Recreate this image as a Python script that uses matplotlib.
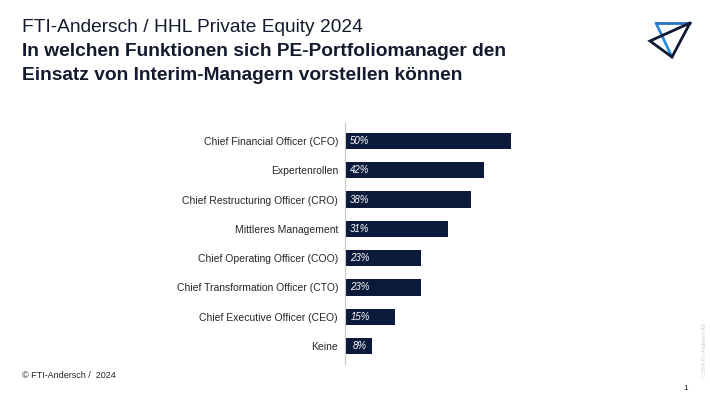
import matplotlib
matplotlib.use("Agg")
import matplotlib.pyplot as plt
from matplotlib.lines import Line2D

plt.rcParams['font.family'] = ['Liberation Sans', 'DejaVu Sans']

# Daten
kategorien = [
    "Chief Financial Officer (CFO)",
    "Expertenrollen",
    "Chief Restructuring Officer (CRO)",
    "Mittleres Management",
    "Chief Operating Officer (COO)",
    "Chief Transformation Officer (CTO)",
    "Chief Executive Officer (CEO)",
    "Keine",
]
werte = [50, 42, 38, 31, 23, 23, 15, 8]
wert_labels = ["50%", "42%", "38%", "31%", "23%", "23%", "15%", "8%"]

W, H = 710, 399
fig = plt.figure(figsize=(W / 100, H / 100), dpi=100)

# Achse: x=0 bei 345 px, 50% bei 511 px
ax_l, ax_r = 345, 345 + 3.32 * 60
ax_t, ax_b = 126.3, 360.7
ax = fig.add_axes([ax_l / W, 1 - ax_b / H, (ax_r - ax_l) / W, (ax_b - ax_t) / H])

pos = list(range(len(kategorien)))
ax.barh(pos, werte, height=0.55, color='#0b1a3b', zorder=2)
ax.set_xlim(0, 60)
ax.set_ylim(len(kategorien) - 0.5, -0.5)
for p, v, lab in zip(pos, werte, wert_labels):
    ax.text(4.5, p, lab, color='white', fontsize=7, style='italic',
            va='center', ha='center', zorder=3)

ax.set_yticks(pos)
ax.set_yticklabels(kategorien, fontsize=7.5, color='#262626')
ax.tick_params(axis='y', length=0, pad=5)
ax.set_xticks([])
for s in ['top', 'right', 'bottom']:
    ax.spines[s].set_visible(False)
ax.spines['left'].set_color('#c8c8c8')
ax.spines['left'].set_linewidth(0.8)
ax.spines['left'].set_bounds(len(kategorien) - 0.35, -0.65)

# Titel
fig.text(22 / W, 1 - 27 / H, "FTI-Andersch / HHL Private Equity 2024",
         fontsize=13.8, color='#141a2e', va='center', ha='left')
fig.text(22 / W, 1 - 51 / H, "In welchen Funktionen sich PE-Portfoliomanager den",
         fontsize=13.8, color='#141a2e', fontweight='bold', va='center', ha='left')
fig.text(22 / W, 1 - 75 / H, "Einsatz von Interim-Managern vorstellen können",
         fontsize=13.8, color='#141a2e', fontweight='bold', va='center', ha='left')

# Fußzeile
fig.text(22 / W, 1 - 376 / H, "© FTI-Andersch /  2024", fontsize=6.5,
         color='#262626', va='center', ha='left')
fig.text(686 / W, 1 - 389 / H, "1", fontsize=6, color='#262626',
         va='center', ha='center')
fig.text(705 / W, 1 - 350 / H, "© 2024 FTI-Andersch AG", fontsize=3.5,
         color='#c8c8c8', rotation=90, va='center', ha='center')

# Logo
def fig_line(xs, ys, color, lw=2.0):
    fig.add_artist(Line2D([x / W for x in xs], [1 - y / H for y in ys],
                          color=color, linewidth=lw, solid_capstyle='round',
                          solid_joinstyle='miter', transform=fig.transFigure))

fig_line([656, 672], [23, 57], '#2f8be0')
fig_line([656, 690], [23, 23], '#2a6fc0')
fig_line([690, 650, 672, 690], [23, 41, 57, 23], '#0e1a33')

fig.savefig("out.png", dpi=100)
